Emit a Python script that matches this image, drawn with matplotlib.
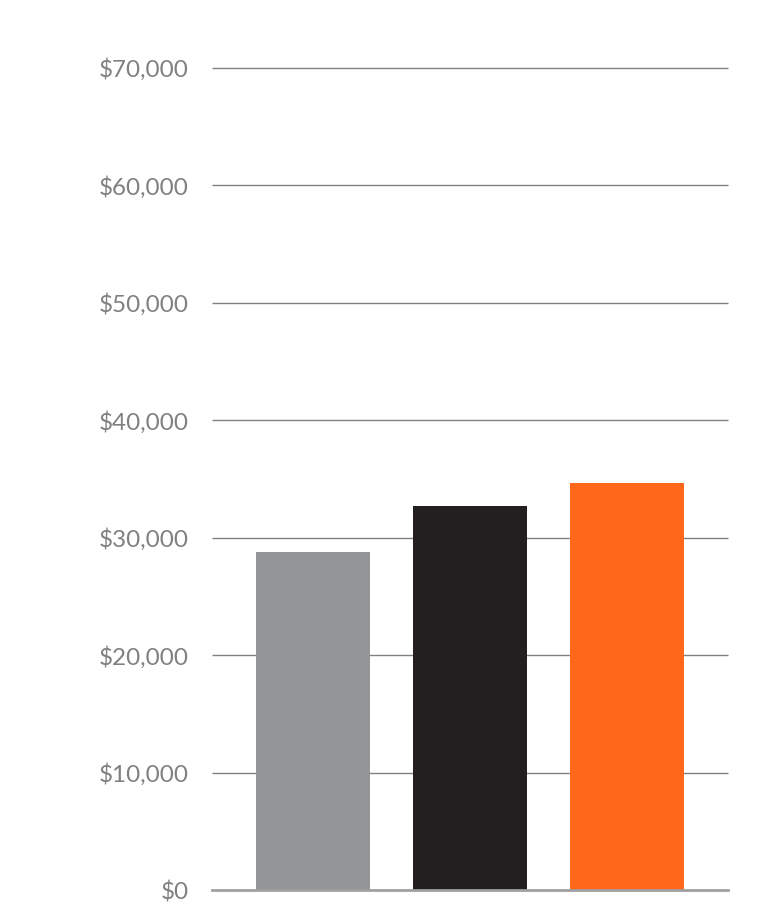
import matplotlib
matplotlib.use("Agg")
import matplotlib.pyplot as plt

# data
groups = ["A", "B", "C"]
values = [28800, 32700, 34650]
colors = ["#939598", "#231f20", "#ff671b"]
ticks = [0, 10000, 20000, 30000, 40000, 50000, 60000, 70000]
tick_labels = ["$0", "$10,000", "$20,000", "$30,000", "$40,000", "$50,000", "$60,000", "$70,000"]

plt.rcParams["font.family"] = ["Lato", "DejaVu Sans"]

fig = plt.figure(figsize=(7.65, 9.06), dpi=100)
ax = fig.add_axes([212/765, 16/906, 516/765, 822/906])

x = list(range(len(groups)))
ax.bar(x, values, width=0.727, color=colors, zorder=3)

# gridlines
ax.hlines(ticks[1:], -0.643, 2.647, color="#808080", linewidth=1.0, zorder=1, clip_on=False)
ax.axhline(0, color="#a0a0a0", linewidth=2.0, zorder=4, clip_on=False)

ax.set_xlim(-0.643, 2.647)
ax.set_ylim(0, 70000)
ax.set_yticks(ticks)
ax.set_yticklabels(tick_labels)
ax.set_xticks([])
ax.tick_params(axis="y", length=0, pad=16.5, labelsize=17.5, labelcolor="#808080")
for s in ax.spines.values():
    s.set_visible(False)

fig.savefig("out.png", dpi=100)
